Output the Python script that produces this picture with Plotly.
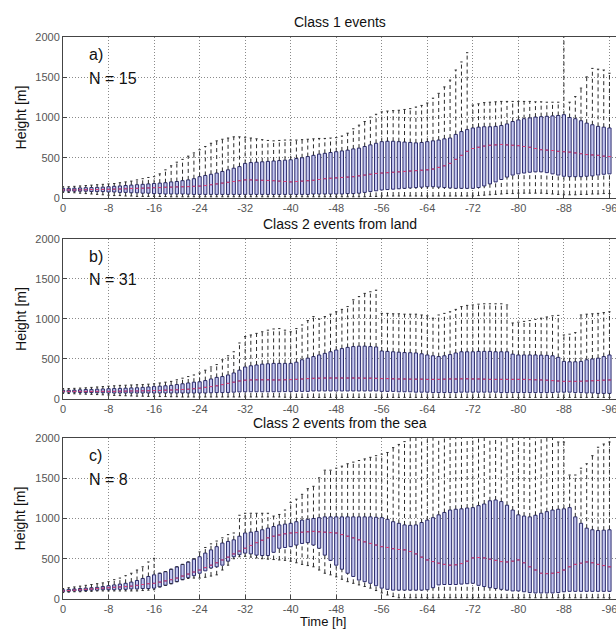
import plotly.graph_objects as go
from plotly.subplots import make_subplots

hours = list(range(0, -97, -1))
xtick_vals = [0, -8, -16, -24, -32, -40, -48, -56, -64, -72, -80, -88, -96]
xtick_text = ["0", "-8", "-16", "-24", "-32", "-40", "-48", "-56", "-64", "-72", "-80", "-88", "-96"]
ytick_vals = [0, 500, 1000, 1500, 2000]
ytick_text = ["0", "500", "1000", "1500", "2000"]

titles = ["Class 1 events", "Class 2 events from land", "Class 2 events from the sea"]
tags = ["a)", "b)", "c)"]
counts = ["N = 15", "N = 31", "N = 8"]

# ---- Panel a: Class 1 events ----
a_med = [100,100,100,102,103,105,105,107,108,
 110,112,115,118,120,122,125,128,
 130,133,135,138,140,142,145,148,
 155,165,175,185,195,205,215,225,
 225,222,220,218,215,210,205,200,
 205,210,215,220,230,240,245,250,
 255,260,265,275,285,295,305,310,
 315,320,325,330,335,340,345,350,
 360,380,400,430,480,530,580,615,
 630,645,655,660,665,660,655,650,
 640,630,615,600,595,590,580,575,
 570,560,550,540,535,530,520,515]
a_q3 = [120,120,122,125,128,130,132,135,140,
 145,150,155,160,165,170,175,180,
 185,190,200,205,215,225,240,265,
 280,295,310,330,350,370,390,430,
 440,445,450,455,460,465,470,475,
 490,500,515,530,545,555,565,575,
 585,595,610,620,640,660,680,700,
 705,705,700,695,690,685,690,700,
 710,720,735,745,790,825,850,870,
 880,885,885,890,900,920,950,970,
 985,995,1005,1010,1015,1020,1025,1035,
 1000,985,960,930,910,890,880,870]
a_q1 = [85,85,85,85,85,80,80,80,75,
 75,70,70,65,65,60,60,55,
 55,50,50,50,50,48,45,45,
 45,45,45,45,45,45,45,45,
 45,45,45,45,45,45,45,45,
 45,45,45,50,50,50,50,50,
 50,55,55,60,70,80,90,100,
 105,110,115,120,125,130,135,140,
 140,135,130,125,120,120,120,120,
 130,150,175,200,230,260,285,300,
 310,320,325,325,315,300,285,270,
 265,265,265,270,275,285,295,300]
a_lo = [70,68,65,60,55,50,45,40,35,
 30,30,25,25,20,20,20,20,
 18,18,15,15,15,15,15,15,
 15,15,15,15,15,15,15,15,
 15,15,15,15,15,15,15,15,
 15,15,15,15,15,15,15,15,
 15,15,15,15,15,20,20,25,
 25,25,25,25,25,25,25,25,
 25,25,25,25,25,25,25,25,
 30,35,40,45,50,55,55,60,
 60,60,60,60,55,50,45,40,
 40,40,45,45,50,50,55,55]
a_hi = [140,140,145,150,155,160,165,170,175,
 180,190,200,210,225,240,255,265,
 300,350,400,445,480,520,560,600,
 640,680,710,730,745,760,760,755,
 745,735,725,715,710,715,720,720,
 720,725,730,735,740,740,745,750,
 770,805,860,905,950,1005,1040,1070,
 1080,1085,1090,1100,1110,1130,1150,1180,
 1240,1300,1380,1465,1590,1690,1805,1155,
 1170,1185,1190,1195,1200,1200,1200,1200,
 1200,1200,1195,1195,1190,1190,1190,2100,
 1190,1260,1365,1505,1610,1600,1590,1550]

# ---- Panel b: Class 2 events from land ----
b_med = [95,95,95,95,95,95,95,95,95,
 95,97,98,100,100,102,103,105,
 107,110,112,115,118,122,128,135,
 145,155,165,180,195,210,225,235,
 238,240,240,240,238,238,240,242,
 245,250,255,258,260,262,262,262,
 262,262,262,262,260,260,258,255,
 255,252,250,250,248,248,248,245,
 245,245,248,250,250,252,252,250,
 250,248,245,245,245,245,245,245,
 245,242,240,238,235,230,225,220,
 220,220,222,225,228,232,235,238]
b_q3 = [110,110,112,115,118,120,122,125,128,
 130,132,135,138,140,145,150,155,
 160,165,170,180,190,200,210,215,
 230,250,270,280,300,325,360,400,
 415,425,435,440,445,445,445,445,
 460,490,510,530,550,570,590,612,
 630,645,655,660,660,655,650,600,
 595,590,585,580,578,575,565,550,
 540,530,540,555,575,590,590,590,
 595,595,595,590,590,590,560,550,
 550,550,550,548,545,540,520,470,
 465,465,470,490,500,510,530,550]
b_q1 = [85,85,85,82,80,80,78,78,75,
 75,75,75,75,75,75,75,75,
 75,75,75,75,75,75,75,75,
 75,78,80,80,82,85,88,90,
 90,90,90,90,90,90,92,92,
 95,95,95,100,100,100,100,100,
 100,100,100,100,100,100,100,95,
 95,95,90,90,90,85,85,85,
 80,80,80,80,80,85,85,85,
 85,85,85,85,80,80,80,80,
 80,80,80,80,80,80,85,85,
 85,80,80,75,75,70,70,70]
b_lo = [70,68,65,62,60,58,55,52,50,
 45,42,40,38,35,35,32,30,
 30,30,28,28,25,25,25,25,
 25,25,25,25,25,25,25,25,
 25,25,25,25,25,25,22,22,
 20,20,20,20,20,20,20,20,
 20,20,20,20,20,20,20,20,
 20,20,20,20,20,20,20,20,
 20,20,20,20,20,20,20,20,
 20,20,20,20,20,20,20,20,
 20,20,20,20,20,20,20,20,
 20,20,20,20,20,20,20,20]
b_hi = [130,130,133,136,140,145,150,155,160,
 165,170,172,175,178,180,185,190,
 200,210,220,240,260,280,300,325,
 360,400,430,490,540,590,700,780,
 800,820,840,860,875,880,860,840,
 880,925,980,1030,1000,1030,1060,1090,
 1120,1155,1240,1280,1320,1340,1360,1070,
 1070,1065,1065,1060,1060,1060,1050,1040,
 1010,1050,1070,1090,1120,1155,1170,1175,
 1185,1190,1190,1190,1190,1175,950,960,
 970,980,995,1010,1025,1040,1045,800,
 810,830,1050,1060,1065,1070,1080,1090]

# ---- Panel c: Class 2 events from the sea ----
c_med = [100,105,110,115,120,125,130,135,140,
 145,150,155,160,170,180,190,195,
 210,225,240,260,285,310,335,360,
 390,420,450,485,520,560,595,630,
 665,700,730,760,780,795,810,820,
 825,830,835,840,835,830,825,820,
 800,780,760,735,710,690,670,650,
 640,625,615,610,590,560,520,485,
 465,445,430,420,425,440,470,510,
 515,510,495,480,465,460,470,485,
 450,400,360,320,315,320,330,360,
 400,430,445,460,450,430,415,400]
c_q3 = [115,120,125,130,135,140,145,155,165,
 175,185,195,210,230,255,280,300,
 320,340,370,400,430,460,495,525,
 570,610,650,695,715,735,780,820,
 830,840,860,880,900,920,930,940,
 960,980,990,1000,1010,1020,1020,1020,
 1020,1020,1020,1020,1020,1020,1015,1010,
 990,960,940,920,915,920,950,980,
 1010,1045,1075,1105,1115,1120,1130,1135,
 1160,1180,1220,1230,1210,1165,1105,1045,
 1030,1020,1040,1065,1085,1105,1115,1120,
 1135,1020,940,880,860,850,855,860]
c_q1 = [90,95,100,100,105,110,110,115,115,
 115,120,120,125,125,130,130,135,
 150,170,190,215,240,265,290,320,
 350,385,400,420,470,525,550,570,
 560,545,540,540,580,630,640,650,
 670,690,700,670,630,545,480,420,
 370,320,280,235,215,195,165,135,
 120,110,110,110,110,110,110,115,
 140,175,180,180,180,185,190,195,
 170,155,140,130,120,110,100,100,
 90,80,75,75,75,75,80,90,
 95,95,95,95,95,95,95,95]
c_lo = [80,85,90,90,95,95,100,100,100,
 100,100,100,100,100,105,110,115,
 150,170,190,215,240,255,260,260,
 270,285,300,360,420,500,525,530,
 520,510,500,495,490,485,480,470,
 450,430,415,400,360,320,300,275,
 245,215,195,175,155,135,105,75,
 50,30,15,15,15,15,15,15,
 15,15,15,15,15,15,15,15,
 15,15,15,15,15,15,15,15,
 15,15,15,15,15,15,15,15,
 15,15,15,15,15,15,15,15]
c_hi = [130,140,150,160,170,180,190,200,215,
 240,260,290,320,360,400,460,505,
 320,340,370,400,430,460,500,585,
 640,685,720,760,800,820,1040,1065,
 1065,1065,1065,1065,1030,1050,1105,1200,
 1240,1300,1370,1400,1505,1600,1600,1625,
 1650,1680,1700,1720,1740,1760,1780,1800,
 1820,1880,1920,1955,2100,2100,2100,2100,
 2100,2100,2100,2100,2100,2100,2100,2100,
 2100,2100,2100,2100,2100,2100,2100,2100,
 2100,2100,2100,2100,2100,2100,1950,1950,
 1540,1540,1625,1680,1780,1885,1925,1950]

panels = [
    (a_lo, a_q1, a_med, a_q3, a_hi),
    (b_lo, b_q1, b_med, b_q3, b_hi),
    (c_lo, c_q1, c_med, c_q3, c_hi),
]

FONT = "Liberation Sans, Arial, sans-serif"
BOX_W = 0.56
CAP_HALF = 0.2
MED_HALF = 0.28

fig = make_subplots(rows=3, cols=1)

for i, (lo, q1, med, q3, hi) in enumerate(panels, start=1):
    # dashed whiskers
    wx, wy = [], []
    for h, l, a, b, u in zip(hours, lo, q1, q3, hi):
        wx += [h, h, None, h, h, None]
        wy += [b, u, None, l, a, None]
    fig.add_trace(go.Scatter(x=wx, y=wy, mode="lines",
                             line=dict(color="#2a2a2a", width=1, dash="4px,3px"),
                             hoverinfo="skip", showlegend=False), row=i, col=1)
    # boxes
    fig.add_trace(go.Box(x=hours, q1=q1, median=med, q3=q3,
                         lowerfence=q1, upperfence=q3,
                         width=BOX_W, whiskerwidth=0, boxpoints=False,
                         fillcolor="#c4c7f0", line=dict(color="#2c2c6e", width=1),
                         hoverinfo="skip", showlegend=False), row=i, col=1)
    # caps
    cx, cy = [], []
    for h, l, u in zip(hours, lo, hi):
        cx += [h - CAP_HALF, h + CAP_HALF, None, h - CAP_HALF, h + CAP_HALF, None]
        cy += [u, u, None, l, l, None]
    fig.add_trace(go.Scatter(x=cx, y=cy, mode="lines",
                             line=dict(color="#2a2a2a", width=1),
                             hoverinfo="skip", showlegend=False), row=i, col=1)
    # red medians
    mx, my = [], []
    for h, m in zip(hours, med):
        mx += [h - MED_HALF, h + MED_HALF, None]
        my += [m, m, None]
    fig.add_trace(go.Scatter(x=mx, y=my, mode="lines",
                             line=dict(color="#e0457a", width=1),
                             hoverinfo="skip", showlegend=False), row=i, col=1)

axis_common = dict(showline=True, mirror=True, linecolor="#444444", linewidth=1,
                   ticks="inside", ticklen=4, tickcolor="#444444",
                   showgrid=True, gridcolor="#8a8a8a", griddash="1px,2px", gridwidth=1,
                   zeroline=False, tickfont=dict(family=FONT, size=11, color="#555555"))

domains = [[0.7135, 1.0], [0.3559, 0.6406], [0.0, 0.2865]]
for i in range(1, 4):
    fig.update_xaxes(range=[0, -97.15], tickvals=xtick_vals, ticktext=xtick_text,
                     domain=[0, 1], ticklabeloverflow="allow", **axis_common, row=i, col=1)
    fig.update_yaxes(range=[0, 2000], tickvals=ytick_vals, ticktext=ytick_text,
                     domain=domains[i - 1], **axis_common, row=i, col=1)

annotations = []
for i in range(3):
    xd = "x domain" if i == 0 else f"x{i+1} domain"
    yd = "y domain" if i == 0 else f"y{i+1} domain"
    annotations.append(dict(text=titles[i], xref=xd, yref=yd, x=0.5, y=1,
                            xanchor="center", yanchor="bottom", yshift=5, showarrow=False,
                            font=dict(family=FONT, size=14, color="#111111")))
    annotations.append(dict(text=tags[i], xref=xd, yref=yd, x=0.043, y=0.89,
                            xanchor="left", yanchor="middle", showarrow=False,
                            font=dict(family=FONT, size=16, color="#111111")))
    annotations.append(dict(text=counts[i], xref=xd, yref=yd, x=0.043, y=0.745,
                            xanchor="left", yanchor="middle", showarrow=False,
                            font=dict(family=FONT, size=16, color="#111111")))
    annotations.append(dict(text="Height [m]", xref="paper", yref=yd, x=-0.076, y=0.5,
                            xanchor="center", yanchor="middle", textangle=-90, showarrow=False,
                            font=dict(family=FONT, size=14, color="#111111")))
annotations.append(dict(text="Time [h]", xref="paper", yref="paper", x=0.47, y=0,
                        xanchor="center", yanchor="middle", yshift=-22, showarrow=False,
                        font=dict(family=FONT, size=13, color="#111111")))

fig.update_layout(width=616, height=629,
                  margin=dict(l=63, r=0, t=37, b=30, autoexpand=False),
                  paper_bgcolor="white", plot_bgcolor="white",
                  showlegend=False, annotations=annotations,
                  font=dict(family=FONT))

fig.write_html("out.html", config={"displayModeBar": False},
               post_script="document.body.style.margin='0';document.body.style.overflow='hidden';")
